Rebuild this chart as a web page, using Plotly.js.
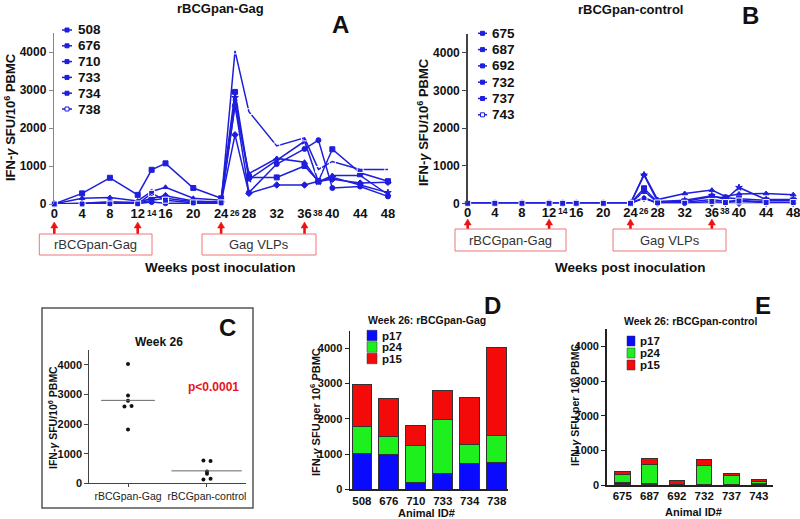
<!DOCTYPE html>
<html><head><meta charset="utf-8">
<script src="https://cdn.plot.ly/plotly-3.0.1.min.js"></script>
<style>html,body{margin:0;padding:0;background:#fff}#chart{width:800px;height:519px}</style>
</head><body><div id="chart"></div>
<script>
// ---------- DATA ----------
const weeks = [0,4,8,12,14,16,20,24,26,28,32,36,38,40,44,48];
const majorWeekTicks = [0,4,8,12,16,20,24,28,32,36,40,44,48];
const minorWeekTicks = [14,26,38];
const boostWeeks = [0,12,24,36];

const gagIds = ['508','676','710','733','734','738'];
const gag508 = [0,280,690,240,900,1070,420,150,2950,700,700,1000,600,1440,820,600];
const gag676 = [0,150,170,80,330,440,150,100,2600,800,1200,1100,580,750,750,250];
const gag710 = [0,20,60,40,150,220,80,50,1820,280,500,500,600,650,550,570];
const gag733 = [0,10,30,20,100,150,60,40,2800,650,1150,1650,580,700,500,300];
const gag734 = [0,5,10,10,50,20,20,20,2600,300,1050,1450,1680,420,460,200];
const gag738 = [0,0,0,0,280,100,30,30,4030,2430,1530,1740,910,1120,910,910];

const ctlIds = ['675','687','692','732','737','743'];
const ctl675 = [0,0,0,0,0,0,0,0,400,30,50,180,150,120,80,80];
const ctl687 = [0,0,0,0,0,0,0,0,770,100,260,350,180,250,260,230];
const ctl692 = [0,0,0,0,0,0,0,0,130,0,0,0,0,0,0,0];
const ctl732 = [0,0,0,0,0,0,0,0,750,50,80,200,100,420,100,100];
const ctl737 = [0,0,0,0,0,0,0,0,320,20,30,100,50,80,30,30];
const ctl743 = [0,0,0,0,0,0,0,0,150,10,0,50,20,60,20,20];

const groupLabels = ['rBCGpan-Gag','rBCGpan-control'];
const peptideNames = ['p17','p24','p15'];
const gagP17 = [1020,990,190,450,730,770];
const gagP24 = [760,520,1050,1530,530,760];
const gagP15 = [1180,1080,580,810,1350,2500];
const ctlP17 = [60,40,0,0,0,30];
const ctlP24 = [230,560,0,550,280,80];
const ctlP15 = [110,170,130,200,40,40];

// ---------- HELPERS ----------
const W = 800, H = 519;
const fx = x => x / W;
const fy = y => 1 - y / H;
const FONT = 'Liberation Sans, Arial, sans-serif';
const BLUE = '#1e1edc';
const barColors = ['#0a0aff','#1ef01e','#f50a0a'];

const gagSeries = [gag508,gag676,gag710,gag733,gag734,gag738];
const ctlSeries = [ctl675,ctl687,ctl692,ctl732,ctl737,ctl743];
const symbols = ['square','triangle-up','diamond','star','circle','square-open'];

const traces = [];
function lineTraces(series, ids, xa, ya){
  series.forEach((s,i) => traces.push({
    type:'scatter', mode:'lines+markers', x:weeks, y:s, xaxis:xa, yaxis:ya,
    name:ids[i], showlegend:false, cliponaxis:false,
    line:{color:BLUE,width:1.5},
    marker:{symbol:symbols[i],size:i===5?6:5,color:i===5?'#fff':BLUE,line:{color:BLUE,width:1}}
  }));
}
lineTraces(gagSeries,gagIds,'x','y');
lineTraces(ctlSeries,ctlIds,'x2','y2');

// Panel C: week-26 totals derived from the peptide stacks
const gagTotals = gagP17.map((v,i)=>v+gagP24[i]+gagP15[i]);
const ctlTotals = ctlP17.map((v,i)=>v+ctlP24[i]+ctlP15[i]);
function jitter(vals, center){
  const xs = vals.map(()=>center);
  const used = vals.map(()=>false);
  vals.forEach((v,i)=>{
    if(used[i]) return;
    for(let j=i+1;j<vals.length;j++){
      if(!used[j] && Math.abs(vals[j]-v)<=60){ xs[i]=center-0.045; xs[j]=center+0.045; used[i]=used[j]=true; break; }
    }
  });
  return xs;
}
const mean = a => a.reduce((p,c)=>p+c,0)/a.length;
traces.push({type:'scatter',mode:'markers',x:jitter(gagTotals,0),y:gagTotals,xaxis:'x3',yaxis:'y3',
  showlegend:false,marker:{color:'#111',size:4},cliponaxis:false});
traces.push({type:'scatter',mode:'markers',x:jitter(ctlTotals,1),y:ctlTotals,xaxis:'x3',yaxis:'y3',
  showlegend:false,marker:{color:'#111',size:4},cliponaxis:false});
const gm = mean(gagTotals), cm = mean(ctlTotals);
traces.push({type:'scatter',mode:'lines',x:[-0.34,0.34],y:[gm,gm],xaxis:'x3',yaxis:'y3',showlegend:false,line:{color:'#666',width:1}});
traces.push({type:'scatter',mode:'lines',x:[0.55,1.44],y:[cm,cm],xaxis:'x3',yaxis:'y3',showlegend:false,line:{color:'#666',width:1}});

// Panels D, E
[gagP17,gagP24,gagP15].forEach((s,i)=>traces.push({type:'bar',x:gagIds,y:s,xaxis:'x4',yaxis:'y4',
  name:peptideNames[i],showlegend:false,width:0.73,marker:{color:barColors[i],line:{color:'#333',width:1}}}));
[ctlP17,ctlP24,ctlP15].forEach((s,i)=>traces.push({type:'bar',x:ctlIds,y:s,xaxis:'x5',yaxis:'y5',
  name:peptideNames[i],showlegend:false,width:0.57,marker:{color:barColors[i],line:{color:'#333',width:1}}}));

// ---------- AXES ----------
const tf = (size,color) => ({family:FONT,size:size,color:color||'#111',weight:'bold'});
const weekAxis = (x0,x1) => ({domain:[fx(x0),fx(x1)],range:[0,48.7],
  tickmode:'array',tickvals:majorWeekTicks,ticktext:majorWeekTicks.map(String),ticklabeloverflow:'allow',
  showline:false,showgrid:false,zeroline:false,ticks:'',tickfont:tf(13),fixedrange:true});
const valAxis = (yBot,yTop,lineColor,font) => ({domain:[fy(yBot),fy(yTop)],range:[0,4500],
  tickvals:[0,1000,2000,3000,4000],showgrid:false,zeroline:false,showline:true,linecolor:lineColor,linewidth:1.5,
  ticks:'outside',ticklen:4,tickcolor:lineColor,tickfont:font,fixedrange:true});

const layout = {
  width:W,height:H,margin:{l:0,r:0,t:0,b:0},paper_bgcolor:'#fff',plot_bgcolor:'rgba(0,0,0,0)',
  barmode:'stack',showlegend:false,font:{family:FONT},
  xaxis:Object.assign(weekAxis(54.3,392.8),{anchor:'y'}),
  yaxis:Object.assign(valAxis(204,33,'#888',tf(12)),{anchor:'x'}),
  xaxis2:Object.assign(weekAxis(467.7,798),{anchor:'y2'}),
  yaxis2:Object.assign(valAxis(203.3,34,'#444',tf(12)),{anchor:'x2'}),
  xaxis3:{domain:[fx(89.3),fx(245.7)],range:[-0.49,1.49],anchor:'y3',tickmode:'array',tickvals:[0,1],ticktext:groupLabels,
    showline:true,linecolor:'#444',linewidth:1,ticks:'outside',ticklen:3,tickcolor:'#444',showgrid:false,zeroline:false,
    tickfont:{family:FONT,size:10.5,color:'#222'},fixedrange:true},
  yaxis3:Object.assign(valAxis(483.3,350,'#444',tf(11)),{anchor:'x3',linewidth:1}),
  xaxis4:{domain:[fx(350),fx(508)],range:[-0.44,5.42],anchor:'y4',type:'category',showline:true,linecolor:'#222',linewidth:1.5,
    ticks:'',showgrid:false,zeroline:false,tickfont:tf(11.5),fixedrange:true},
  yaxis4:Object.assign(valAxis(489.3,330.7,'#222',tf(11)),{anchor:'x4'}),
  xaxis5:{domain:[fx(606.7),fx(773.3)],range:[-0.57,5.53],anchor:'y5',type:'category',showline:true,linecolor:'#222',linewidth:1.5,
    ticks:'',showgrid:false,zeroline:false,tickfont:tf(11.5),fixedrange:true},
  yaxis5:Object.assign(valAxis(485,329.3,'#222',tf(11)),{anchor:'x5'}),
  shapes:[],annotations:[]
};

const A = layout.annotations, S = layout.shapes;
function txt(x,y,text,size,opts){
  A.push(Object.assign({xref:'paper',yref:'paper',x:fx(x),y:fy(y),text:text,showarrow:false,
    xanchor:'center',yanchor:'middle',font:{family:FONT,size:size,color:'#111',weight:'bold'}},opts||{}));
}
// paper-x of a week value on a given week axis (from that axis's own domain and range)
function weekToPaper(ax, w){
  const d = ax.domain, r = ax.range;
  return d[0] + (w - r[0]) / (r[1] - r[0]) * (d[1] - d[0]);
}
const yTitleA = 'IFN-<i>γ</i> SFU/10<sup>6</sup> PBMC';
const yTitleD = 'IFN-<i>γ</i> SFU per 10<sup>6</sup> PBMC';

// Panel A / B decorations
function weekPanel(xa, ax, title, titleX, titleY, letter, lx, ly, ytx, yty, minorY, arrowTop, boxTop, boxBot, boxes){
  txt(titleX,titleY,title,13);
  txt(lx,ly,letter,24);
  txt(ytx,yty,yTitleA,13,{textangle:-90});
  txt(titleX,267,'Weeks post inoculation',13.5);
  minorWeekTicks.forEach(w=>A.push({xref:xa,yref:'paper',x:w,y:fy(minorY),text:String(w),showarrow:false,
    xanchor:'center',yanchor:'middle',font:{family:FONT,size:8.5,color:'#111',weight:'bold'}}));
  // red up-arrows at inoculation weeks: shaft + head
  const headH = 6, hw = 3.5 / W;
  boostWeeks.forEach(w=>{
    const px = weekToPaper(ax, w);
    S.push({type:'line',xref:'paper',yref:'paper',x0:px,x1:px,y0:fy(boxTop),y1:fy(arrowTop+headH-1),
      line:{color:'#ee1111',width:2.6}});
    S.push({type:'path',xref:'paper',yref:'paper',
      path:`M ${px-hw},${fy(arrowTop+headH)} L ${px+hw},${fy(arrowTop+headH)} L ${px},${fy(arrowTop)} Z`,
      fillcolor:'#ee1111',line:{color:'#ee1111',width:0.5}});
  });
  boxes.forEach(b=>{
    S.push({type:'rect',xref:'paper',yref:'paper',x0:fx(b[0]),x1:fx(b[1]),y0:fy(boxBot),y1:fy(boxTop),
      line:{color:'#ee7777',width:1}});
    A.push({xref:'paper',yref:'paper',x:fx((b[0]+b[1])/2),y:fy((boxTop+boxBot)/2),text:b[2],showarrow:false,
      xanchor:'center',yanchor:'middle',font:{family:FONT,size:13,color:'#333'}});
  });
}
weekPanel('x',layout.xaxis,'rBCGpan-Gag',220,8,'A',340,25,10,117,213,222,234,255,
  [[39.3,152,'rBCGpan-Gag'],[202,316,'Gag VLPs']]);
weekPanel('x2',layout.xaxis2,'rBCGpan-control',630,10,'B',750,16,423,122,211,219,229,251,
  [[455,566,'rBCGpan-Gag'],[613,726,'Gag VLPs']]);

// legends A/B (swatches)
function lineLegend(ids, rows, x0, x1, tx){
  ids.forEach((id,i)=>{
    const y = rows[i];
    S.push({type:'line',xref:'paper',yref:'paper',x0:fx(x0),x1:fx(x1),y0:fy(y),y1:fy(y),line:{color:BLUE,width:1.5}});
    const m = (x0+x1)/2, open = symbols[i]==='square-open';
    S.push({type:'rect',xref:'paper',yref:'paper',x0:fx(m-2),x1:fx(m+2),y0:fy(y+2),y1:fy(y-2),
      line:{color:BLUE,width:1},fillcolor:open?'#fff':BLUE});
    txt(tx,y,id,13.5,{xanchor:'left'});
  });
}
lineLegend(gagIds,[30,45.8,61.6,77.4,93.2,109],62,72,76);
lineLegend(ctlIds,[33.3,49.6,65.9,82.2,98.5,114.8],478,487,490);

// Panel C
S.push({type:'rect',xref:'paper',yref:'paper',x0:fx(42),x1:fx(253),y0:fy(508),y1:fy(308),line:{color:'#555',width:1.5}});
txt(227,327,'C',24);
txt(159,342,'Week 26',12);
txt(213,387,'p<0.0001',12,{font:{family:FONT,size:12,color:'#e8141c',weight:'bold'}});
txt(52,418,yTitleA,10.5,{textangle:-90});

// Panel D / E
function barLegend(rows, x0, w, h, tx, fs){
  peptideNames.forEach((n,i)=>{
    const y = rows[i];
    S.push({type:'rect',xref:'paper',yref:'paper',x0:fx(x0),x1:fx(x0+w),y0:fy(y+h/2),y1:fy(y-h/2),
      line:{color:'#333',width:0.5},fillcolor:barColors[i]});
    txt(tx,y,n,fs,{xanchor:'left'});
  });
}
txt(492,305,'D',24);
txt(427,320,'Week 26: rBCGpan-Gag',10.5);
barLegend([335.5,347,358.5],367,10,10.5,380,11.5);
txt(315,412,yTitleD,11,{textangle:-90});
txt(427,512.5,'Animal ID#',11);

txt(763,305,'E',24);
txt(690,321,'Week 26: rBCGpan-control',10.5);
barLegend([341,353,365],627,8,10,638,11.5);
txt(574,405,yTitleD,10.5,{textangle:-90});
txt(693,512,'Animal ID#',11);

Plotly.newPlot('chart',traces,layout,{staticPlot:true,displayModeBar:false});
</script></body></html>
